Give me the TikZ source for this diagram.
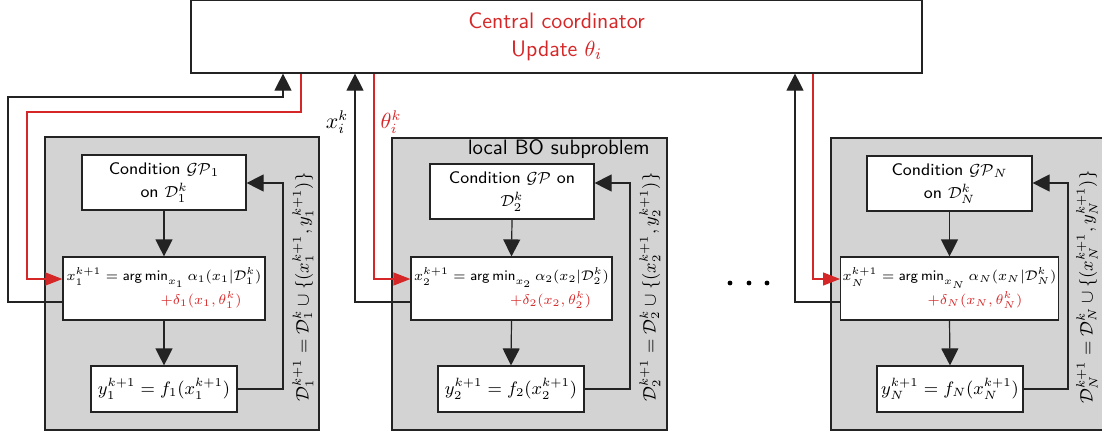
\documentclass[tikz,border=0pt]{standalone}
\usetikzlibrary{arrows.meta}
\definecolor{cred}{RGB}{214,39,40}
\definecolor{boxgray}{RGB}{211,211,211}
\definecolor{lines}{RGB}{35,35,35}
\begin{document}
\begin{tikzpicture}[x=0.5pt,y=-0.5pt,
  sub/.style={draw=lines, line width=0.6pt, fill=boxgray, inner sep=0pt},
  inbox/.style={draw=lines, line width=0.6pt, fill=white, inner sep=1pt, align=center},
  conn/.style={draw=lines, line width=0.6pt, -{Triangle[length=8.5pt,width=8.5pt]}},
  rconn/.style={draw=cred, line width=0.6pt, -{Triangle[length=8.5pt,width=6.5pt]}},
  condfont/.style={font=\sffamily\fontsize{8.4}{11.5}\selectfont},
  argfont/.style={font=\sffamily\fontsize{7.5}{11}\selectfont},
  yfont/.style={font=\sffamily\fontsize{8.7}{11}\selectfont},
  rotfont/.style={font=\sffamily\fontsize{8.6}{10}\selectfont},
  lblfont/.style={font=\sffamily\fontsize{10.4}{12}\selectfont},
]
\useasboundingbox (0,0) rectangle (1102,435);

% central coordinator
\node[draw=lines, line width=0.6pt, fill=white, minimum width=365.5pt, minimum height=36.25pt,
      text=cred, align=center, font=\sffamily\fontsize{11.2}{14}\selectfont]
  (C) at (556.5,36.75) {Central coordinator\\Update $\theta_i$};

% subproblem boxes
\node[sub, minimum width=137pt, minimum height=146.5pt] (S1) at (182,283.5) {};
\node[sub, minimum width=137.5pt, minimum height=146pt] (S2) at (529.5,284) {};
\node[sub, minimum width=137.5pt, minimum height=146pt] (SN) at (968.5,284) {};
\node[lblfont, anchor=east, inner sep=0pt] (L2) at (650,149) {local BO subproblem};

% box 1
\node[inbox, condfont, minimum width=82pt, minimum height=27.5pt] (G1) at (164,182.5)
  {Condition $\mathcal{GP}_1$\\on $\mathcal{D}_1^k$};
\node[inbox, argfont, minimum width=101pt, minimum height=31.5pt] (A1) at (164,288.5)
  {\begin{tabular}{@{}l@{}}$x_1^{k+1} = \mathsf{arg\,min}_{x_1}\,\alpha_1(x_1|\mathcal{D}_1^k)$\\[1pt]
   \hspace*{47pt}\textcolor{cred}{$+\delta_1(x_1,\theta_1^k)$}\end{tabular}};
\node[inbox, yfont, minimum width=73pt, minimum height=23pt] (Y1) at (164,389)
  {$y_1^{k+1} = f_1(x_1^{k+1})$};
\node[rotfont, rotate=90, inner sep=0pt] (R1) at (303,287)
  {$\mathcal{D}_1^{k+1} = \mathcal{D}_1^k \cup \{(x_1^{k+1}, y_1^{k+1})\}$};

% box 2
\node[inbox, condfont, minimum width=82pt, minimum height=27.5pt] (G2) at (512,191.5)
  {Condition $\mathcal{GP}$ on\\$\mathcal{D}_2^k$};
\node[inbox, argfont, minimum width=100.5pt, minimum height=31.5pt] (A2) at (511.5,288.5)
  {\begin{tabular}{@{}l@{}}$x_2^{k+1} = \mathsf{arg\,min}_{x_2}\,\alpha_2(x_2|\mathcal{D}_2^k)$\\[1pt]
   \hspace*{48pt}\textcolor{cred}{$+\delta_2(x_2,\theta_2^k)$}\end{tabular}};
\node[inbox, yfont, minimum width=73pt, minimum height=23pt] (Y2) at (511,389)
  {$y_2^{k+1} = f_2(x_2^{k+1})$};
\node[rotfont, rotate=90, inner sep=0pt] (R2) at (650,287)
  {$\mathcal{D}_2^{k+1} = \mathcal{D}_2^k \cup \{(x_2^{k+1}, y_2^{k+1})\}$};

% box N
\node[inbox, condfont, minimum width=82.5pt, minimum height=27.5pt] (GN) at (949.5,183.5)
  {Condition $\mathcal{GP}_N$\\on $\mathcal{D}_N^k$};
\node[inbox, argfont, minimum width=100.5pt, minimum height=31.5pt] (AN) at (949.5,288.5)
  {\begin{tabular}{@{}l@{}}$x_N^{k+1} = \mathsf{arg\,min}_{x_N}\,\alpha_N(x_N|\mathcal{D}_N^k)$\\[1pt]
   \hspace*{42.5pt}\textcolor{cred}{$+\delta_N(x_N,\theta_N^k)$}\end{tabular}};
\node[inbox, yfont, minimum width=73pt, minimum height=23pt] (YN) at (950,389)
  {$y_N^{k+1} = f_N(x_N^{k+1})$};
\node[rotfont, rotate=90, inner sep=0pt] (RN) at (1087,287)
  {$\mathcal{D}_N^{k+1} = \mathcal{D}_N^k \cup \{(x_N^{k+1}, y_N^{k+1})\}$};

% labels and dots
\node[font=\sffamily\fontsize{10.5}{12}\selectfont, inner sep=0pt] (xl) at (337,122) {$x_i^k$};
\node[font=\sffamily\fontsize{10.5}{12}\selectfont, inner sep=0pt, text=cred] (tl) at (391,122) {$\theta_i^k$};
\fill[black] (730,283) circle (2.4) (749,283) circle (2.4) (767,283) circle (2.4);

% coordinates
\coordinate (f1) at (283,183);
\coordinate (f2) at (630,183);
\coordinate (fN) at (1068,183);
\coordinate (b1a) at (8,302);
\coordinate (b1b) at (283,97);
\coordinate (r1a) at (301,112);
\coordinate (r1b) at (27,279);
\coordinate (b2) at (355,302);
\coordinate (r2) at (374,279);
\coordinate (bN) at (795,302);
\coordinate (rN) at (813,279);

% internal arrows
\foreach \i in {1,2,N}{
  \draw[conn] (G\i.south) -- (A\i.north);
  \draw[conn] (A\i.south) -- (Y\i.north);
  \draw[conn] (Y\i.east) -| (f\i) -- (f\i -| G\i.east);
}

% box 1 links to centre
\draw[conn] (A1.west |- b1a) -- (b1a) |- (b1b) -- (b1b |- C.south);
\draw[rconn] (r1a |- C.south) -- (r1a) -| (r1b) -- (r1b -| A1.west);
% box 2
\draw[conn] (A2.west |- b2) -- (b2) -- (b2 |- C.south);
\draw[rconn] (r2 |- C.south) -- (r2) -- (r2 -| A2.west);
% box N
\draw[conn] (AN.west |- bN) -- (bN) -- (bN |- C.south);
\draw[rconn] (rN |- C.south) -- (rN) -- (rN -| AN.west);
\end{tikzpicture}
\end{document}
